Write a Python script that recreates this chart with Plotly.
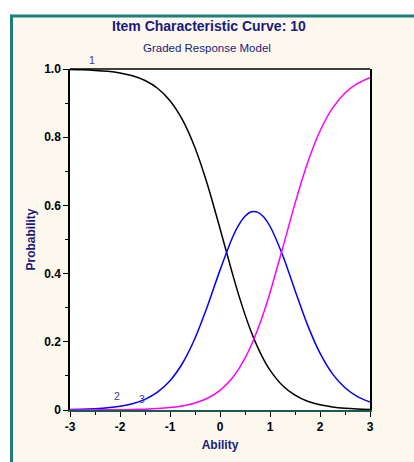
import plotly.graph_objects as go

# Ability grid and category response probabilities (graded response, 3 categories)
ability = [-3.0, -2.75, -2.5, -2.25, -2.0, -1.75, -1.5, -1.25, -1.0, -0.75, -0.5, -0.25,
           0.0, 0.25, 0.375, 0.5, 0.625, 0.75, 0.875, 1.0, 1.25, 1.5, 1.75, 2.0, 2.25,
           2.5, 2.75, 3.0]
cat1 = [0.9986, 0.9976, 0.9959, 0.9931, 0.9882, 0.9800, 0.9662, 0.9436, 0.9071, 0.8509,
        0.7692, 0.6607, 0.5322, 0.3993, 0.3369, 0.2797, 0.2289, 0.1850, 0.1478, 0.1170,
        0.0718, 0.0433, 0.0257, 0.0152, 0.0089, 0.0052, 0.0031, 0.0018]
cat2 = [0.0013, 0.0022, 0.0038, 0.0064, 0.0110, 0.0186, 0.0313, 0.0523, 0.0858, 0.1371,
        0.2104, 0.3048, 0.4102, 0.5060, 0.5427, 0.5684, 0.5813, 0.5804, 0.5660, 0.5389,
        0.4550, 0.3508, 0.2497, 0.1665, 0.1059, 0.0652, 0.0393, 0.0234]
cat3 = [0.0001, 0.0002, 0.0003, 0.0005, 0.0008, 0.0014, 0.0024, 0.0041, 0.0071, 0.0120,
        0.0204, 0.0345, 0.0576, 0.0947, 0.1204, 0.1519, 0.1898, 0.2346, 0.2862, 0.3441,
        0.4732, 0.6059, 0.7246, 0.8183, 0.8852, 0.9296, 0.9576, 0.9748]

x_ticks = [-3, -2, -1, 0, 1, 2, 3]
x_labels = ["-3", "-2", "-1", "0", "1", "2", "3"]
y_ticks = [0, 0.2, 0.4, 0.6, 0.8, 1.0]
y_labels = ["0", "0.2", "0.4", "0.6", "0.8", "1.0"]

# curve name, values, colour, label position (ability, probability)
curves = [
    ("1", cat1, "#000000", (-2.56, 1.025)),
    ("2", cat2, "#0000FF", (-2.06, 0.040)),
    ("3", cat3, "#FF00FF", (-1.56, 0.031)),
]

X_MIN, X_MAX = -3, 3
Y_MIN, Y_MAX = 0, 1

W, H = 414, 462
L, R, T, B = 70, 44, 69, 48
PW, PH = W - L - R, H - T - B

def px_x(px):
    return (px - L) / PW

def px_y(py):
    return (H - B - py) / PH

NAVY = "#1A1A7E"
TEAL = "#1B7F7B"
CREAM = "#FDF8EE"
FONT = "Liberation Sans, Arial, sans-serif"

fig = go.Figure()
for name, vals, color, _ in curves:
    fig.add_trace(go.Scatter(
        x=ability, y=vals, mode="lines", name=name,
        line=dict(color=color, width=1.5, shape="spline", smoothing=0.8),
        showlegend=False, hoverinfo="skip",
    ))

annotations = [
    dict(text="<b>Item Characteristic Curve: 10</b>", xref="paper", yref="paper",
         x=px_x(209), y=px_y(25), xanchor="center", yanchor="middle", showarrow=False,
         font=dict(family=FONT, size=14, color=NAVY)),
    dict(text="Graded Response Model", xref="paper", yref="paper",
         x=px_x(207), y=px_y(48), xanchor="center", yanchor="middle", showarrow=False,
         font=dict(family=FONT, size=11.5, color=NAVY)),
]
# curve labels placed in paper space (so a label just above the frame still shows)
for name, _, _, (lx, ly) in curves:
    annotations.append(dict(
        text=name, xref="paper", yref="paper",
        x=(lx - X_MIN) / (X_MAX - X_MIN), y=(ly - Y_MIN) / (Y_MAX - Y_MIN),
        showarrow=False, xanchor="center", yanchor="middle",
        font=dict(family=FONT, size=10.5, color="#3535B0")))

shapes = [
    # white margin strips around the cream panel
    dict(type="rect", xref="paper", yref="paper", x0=px_x(-5), x1=px_x(W + 5),
         y0=px_y(14), y1=px_y(-5), fillcolor="white", line=dict(width=0), layer="above"),
    dict(type="rect", xref="paper", yref="paper", x0=px_x(-5), x1=px_x(10),
         y0=px_y(H + 5), y1=px_y(-5), fillcolor="white", line=dict(width=0), layer="above"),
    # teal panel border (top and left)
    dict(type="line", xref="paper", yref="paper", x0=px_x(10), x1=px_x(W + 5),
         y0=px_y(15.5), y1=px_y(15.5), line=dict(color=TEAL, width=3), layer="above"),
    dict(type="line", xref="paper", yref="paper", x0=px_x(11.5), x1=px_x(11.5),
         y0=px_y(14), y1=px_y(H + 5), line=dict(color=TEAL, width=3), layer="above"),
    # top edge of the plot frame
    dict(type="line", xref="paper", yref="paper", x0=0, x1=1, y0=1, y1=1,
         line=dict(color="black", width=1.5), layer="above"),
]

fig.update_layout(
    width=W, height=H,
    margin=dict(l=L, r=R, t=T, b=B, pad=0),
    paper_bgcolor=CREAM, plot_bgcolor="white",
    annotations=annotations, shapes=shapes,
    xaxis=dict(
        range=[X_MIN, X_MAX], tickvals=x_ticks, ticktext=x_labels,
        showgrid=False, zeroline=False,
        showline=True, linecolor="#1E5A52", linewidth=2,
        ticks="outside", ticklen=5, tickwidth=1.2, tickcolor="black",
        minor=dict(dtick=0.5, tick0=0, ticks="outside", ticklen=3, tickcolor="black", tickwidth=1),
        tickfont=dict(family=FONT, size=12, color="black", weight="bold"),
        title=dict(text="<b>Ability</b>", standoff=7,
                   font=dict(family=FONT, size=12, color=NAVY)),
    ),
    yaxis=dict(
        range=[Y_MIN, Y_MAX], tickvals=y_ticks, ticktext=y_labels,
        showgrid=False, zeroline=False,
        showline=True, linecolor="black", linewidth=1.5, mirror=True,
        ticks="outside", ticklen=5, tickwidth=1.2, tickcolor="black",
        minor=dict(dtick=0.1, tick0=0, ticks="outside", ticklen=3, tickcolor="black", tickwidth=1),
        tickfont=dict(family=FONT, size=12, color="black", weight="bold"),
        title=dict(text="<b>Probability</b>", standoff=6,
                   font=dict(family=FONT, size=12, color=NAVY)),
    ),
)

fig.write_html("out.html")
